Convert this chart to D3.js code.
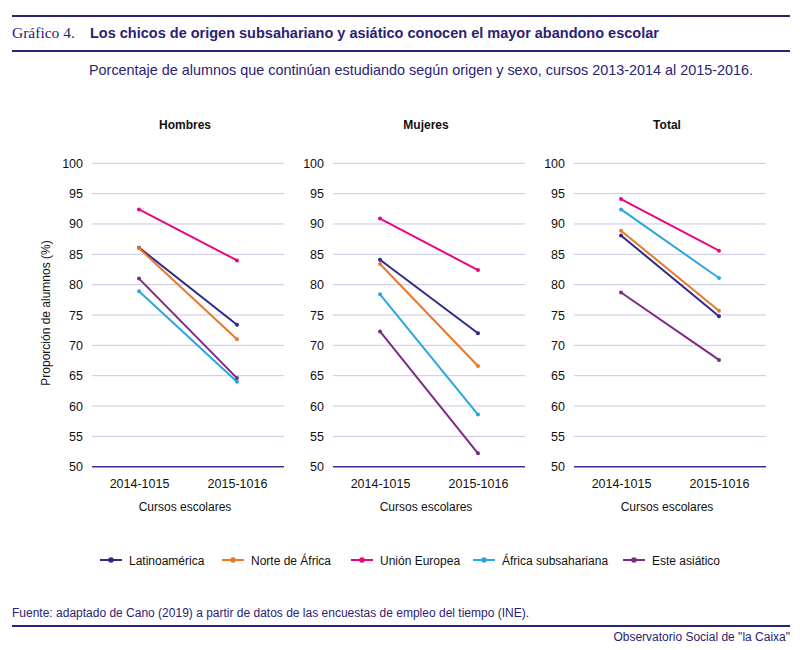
<!DOCTYPE html>
<html>
<head>
<meta charset="utf-8">
<script src="https://cdn.jsdelivr.net/npm/d3@7"></script>
<style>
  body { margin: 0; background: #fff; }
  svg text { font-family: "Liberation Sans", Arial, sans-serif; }
</style>
</head>
<body>
<script>
// datos
const paneles = ["Hombres", "Mujeres", "Total"];
const cursos = ["2014-1015", "2015-1016"];
const origenes = ["Latinoamérica", "Norte de África", "Unión Europea", "África subsahariana", "Este asiático"];
const colores = ["#2e2a86", "#e8782a", "#e5097f", "#2aa6e0", "#7d2a84"];
const yTicks = [50, 55, 60, 65, 70, 75, 80, 85, 90, 95, 100];

// valores por origen: [Hombres, Mujeres, Total], cada uno [2014-15, 2015-16]
const latinoamerica = [[86.1, 73.4], [84.1, 72.0], [88.1, 74.8]];
const norteAfrica = [[86.0, 71.0], [83.4, 66.6], [88.9, 75.7]];
const unionEuropea = [[92.4, 84.0], [90.9, 82.4], [94.1, 85.6]];
const africaSub = [[78.9, 64.0], [78.4, 58.6], [92.4, 81.1]];
const esteAsiatico = [[81.0, 64.6], [72.3, 52.2], [78.7, 67.6]];
const valores = [latinoamerica, norteAfrica, unionEuropea, africaSub, esteAsiatico];

const W = 800, H = 650;
const navy = "#2b2272";
const svg = d3.select("body").append("svg").attr("width", W).attr("height", H);

// cabecera
svg.append("line").attr("x1", 12).attr("x2", 790).attr("y1", 16).attr("y2", 16)
  .attr("stroke", navy).attr("stroke-width", 2);
svg.append("line").attr("x1", 12).attr("x2", 790).attr("y1", 51).attr("y2", 51)
  .attr("stroke", navy).attr("stroke-width", 2);
svg.append("text").attr("x", 12).attr("y", 38)
  .style("font-family", "'Liberation Serif', 'DejaVu Serif', serif")
  .attr("font-size", 15.5).attr("fill", navy).text("Gráfico 4.");
svg.append("text").attr("x", 90).attr("y", 38)
  .attr("font-size", 14.5).attr("font-weight", "bold").attr("fill", navy)
  .text("Los chicos de origen subsahariano y asiático conocen el mayor abandono escolar");
svg.append("text").attr("x", 89).attr("y", 75)
  .attr("font-size", 14.4).attr("fill", navy)
  .text("Porcentaje de alumnos que continúan estudiando según origen y sexo, cursos 2013-2014 al 2015-2016.");

const y = d3.scaleLinear().domain([50, 100]).range([466.7, 163.3]);
const lefts = [92, 333, 574];
const pw = 192;

paneles.forEach((p, pi) => {
  const g = svg.append("g").attr("transform", `translate(${lefts[pi]},0)`);
  const x = d3.scalePoint().domain(cursos).range([0, pw]).padding(0.48);

  // rejilla
  g.selectAll("line.grid").data(yTicks).join("line")
    .attr("class", "grid")
    .attr("x1", 0).attr("x2", pw)
    .attr("y1", d => y(d)).attr("y2", d => y(d))
    .attr("stroke", d => d === 50 ? "#3b2d8c" : "#cbc7e2")
    .attr("stroke-width", d => d === 50 ? 1.5 : 1);

  const yAxis = g.append("g").call(d3.axisLeft(y).tickValues(yTicks).tickSize(0).tickPadding(9));
  yAxis.select(".domain").remove();
  yAxis.selectAll("text").attr("font-size", 12.5).attr("fill", "#111")
    .style("font-family", "'Liberation Sans', Arial, sans-serif");

  const xAxis = g.append("g").attr("transform", `translate(0,${y(50)})`)
    .call(d3.axisBottom(x).tickSize(0).tickPadding(12));
  xAxis.select(".domain").remove();
  xAxis.selectAll("text").attr("font-size", 12.5).attr("fill", "#111")
    .style("font-family", "'Liberation Sans', Arial, sans-serif");

  g.append("text").attr("x", pw / 2 - 3).attr("y", 129).attr("text-anchor", "middle")
    .attr("font-size", 12).attr("font-weight", "bold").attr("fill", "#111").text(p);
  g.append("text").attr("x", pw / 2 - 3).attr("y", 511).attr("text-anchor", "middle")
    .attr("font-size", 12).attr("fill", "#111").text("Cursos escolares");

  const line = d3.line().x((d, i) => x(cursos[i])).y(d => y(d));
  origenes.forEach((o, si) => {
    const vals = valores[si][pi];
    g.append("path").attr("d", line(vals)).attr("fill", "none")
      .attr("stroke", colores[si]).attr("stroke-width", 2);
    g.selectAll(null).data(vals).join("circle")
      .attr("cx", (d, i) => x(cursos[i])).attr("cy", d => y(d)).attr("r", 2)
      .attr("fill", colores[si]);
  });
});

svg.append("text").attr("transform", "translate(50,313) rotate(-90)")
  .attr("text-anchor", "middle").attr("font-size", 12).attr("fill", "#111")
  .text("Proporción de alumnos (%)");

// leyenda
const legX = [100, 222, 351, 473, 623];
const leg = svg.append("g").attr("transform", "translate(0,560)");
origenes.forEach((o, i) => {
  const it = leg.append("g").attr("transform", `translate(${legX[i]},0)`);
  it.append("line").attr("x1", 0).attr("x2", 22).attr("stroke", colores[i]).attr("stroke-width", 2);
  it.append("circle").attr("cx", 11).attr("r", 2.8).attr("fill", colores[i]);
  it.append("text").attr("x", 29).attr("y", 4.5).attr("font-size", 12).attr("fill", "#111").text(o);
});

// pie
svg.append("text").attr("x", 12).attr("y", 617).attr("font-size", 12).attr("fill", navy)
  .text("Fuente: adaptado de Cano (2019) a partir de datos de las encuestas de empleo del tiempo (INE).");
svg.append("line").attr("x1", 12).attr("x2", 790).attr("y1", 626).attr("y2", 626)
  .attr("stroke", navy).attr("stroke-width", 2);
svg.append("text").attr("x", 790).attr("y", 641).attr("text-anchor", "end")
  .attr("font-size", 12).attr("fill", navy).text("Observatorio Social de \"la Caixa\"");
</script>
</body>
</html>
